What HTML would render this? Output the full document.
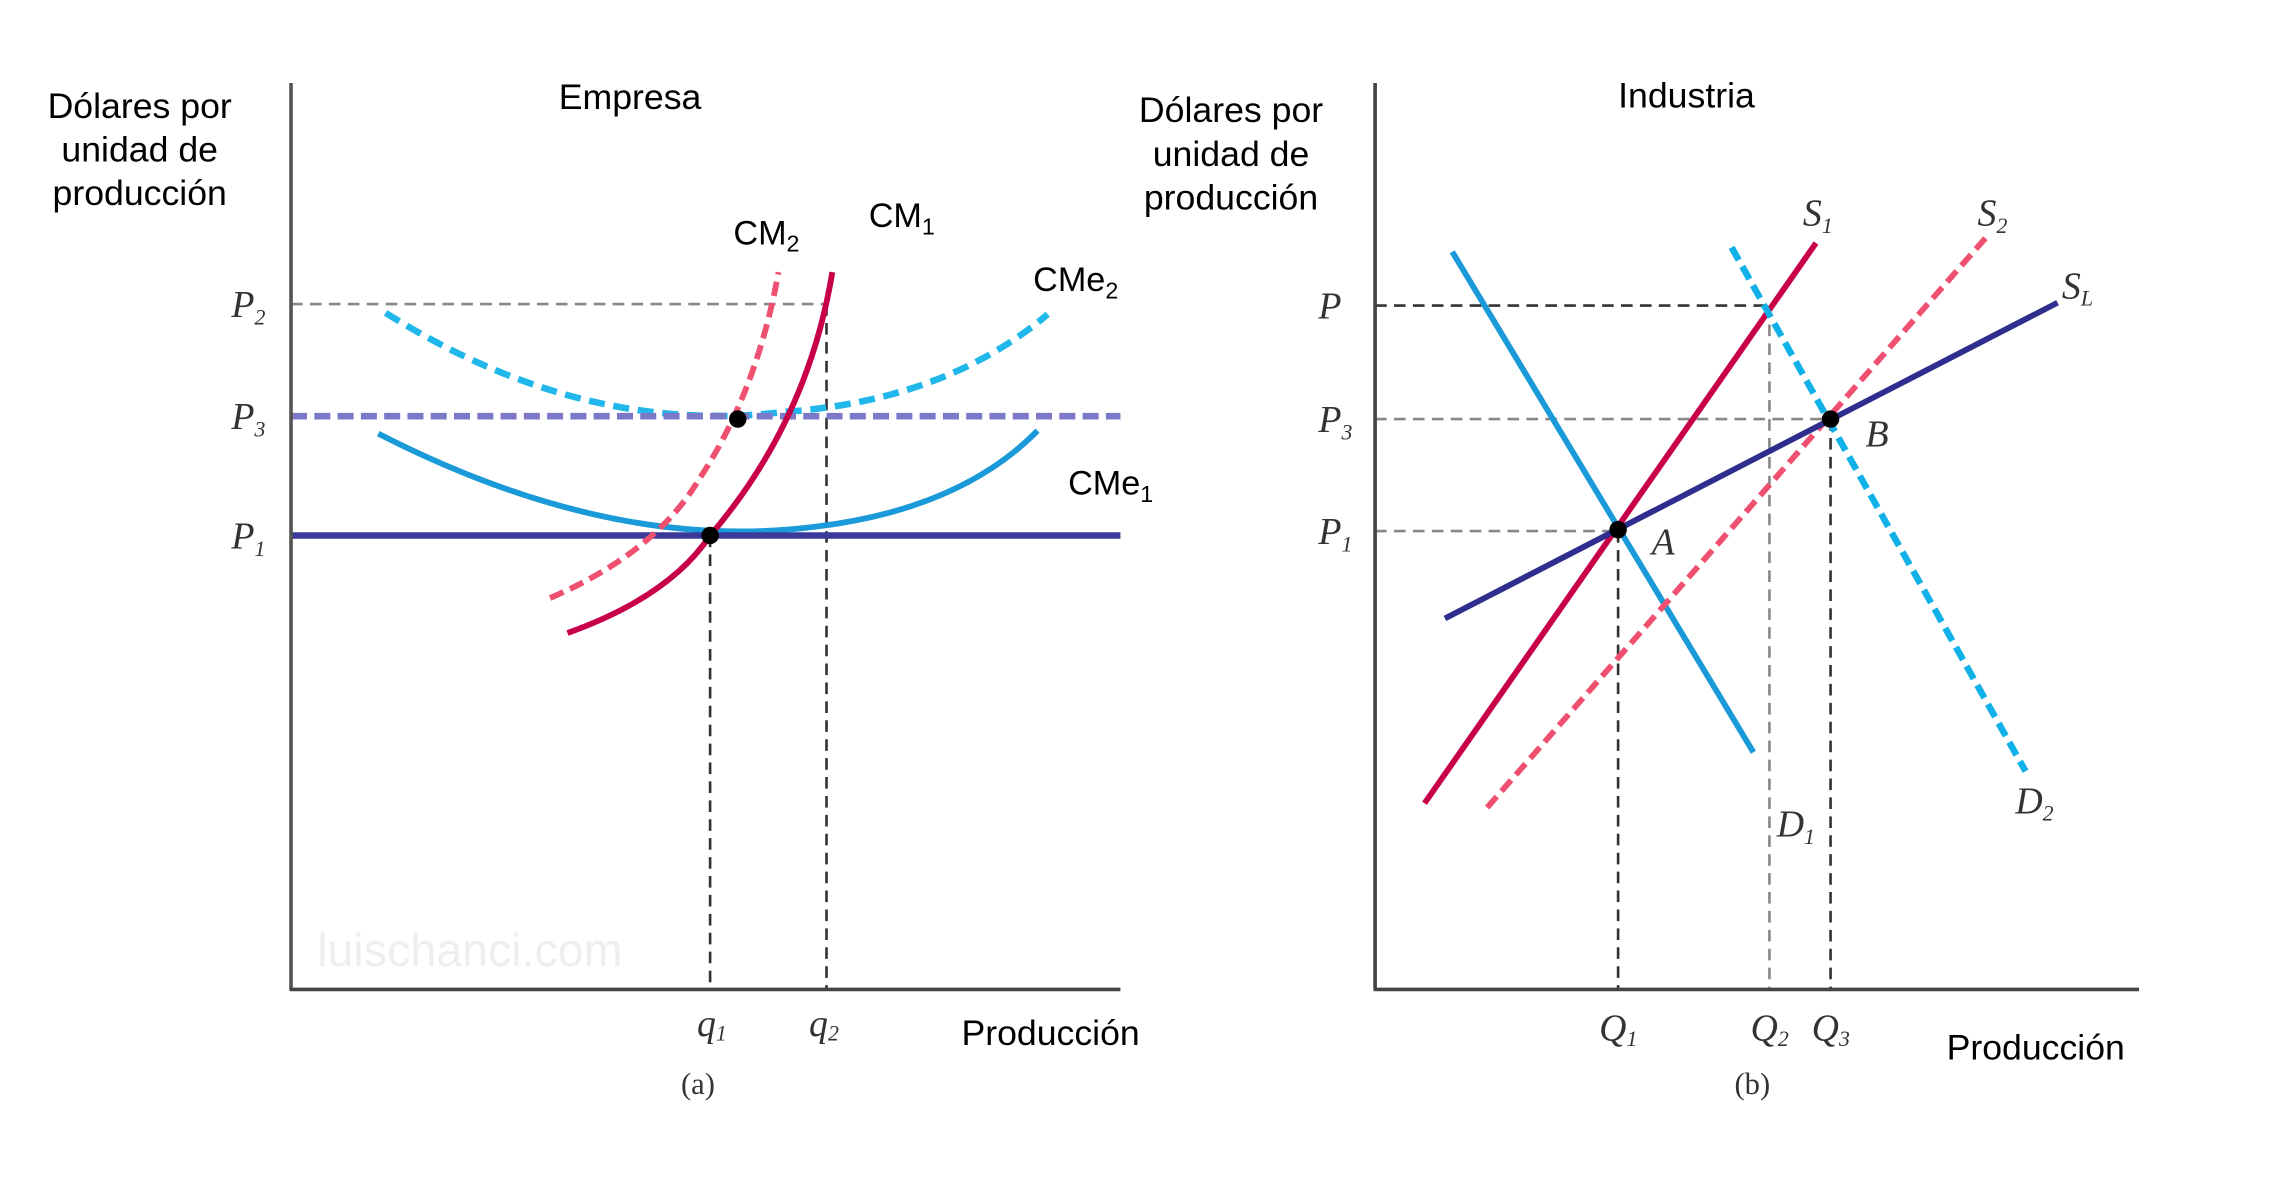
<!DOCTYPE html>
<html><head><meta charset="utf-8"><style>
html,body{margin:0;padding:0;background:#fff;width:2270px;height:1182px;overflow:hidden}
svg{display:block}
.s{font-family:"Liberation Sans",sans-serif;fill:#000}
.r{font-family:"Liberation Serif",serif;font-style:italic;fill:#333}
</style></head><body>
<svg width="2270" height="1182" viewBox="0 0 1560 812.3" preserveAspectRatio="none" xmlns="http://www.w3.org/2000/svg">
<!-- LEFT PANEL -->
<text class="s" x="218" y="664" font-size="32" style="fill:#eeeeee">luischanci.com</text>
<g class="s" font-size="24.5" text-anchor="middle">
<text x="96" y="81">Dólares por</text>
<text x="96" y="111">unidad  de</text>
<text x="96" y="141">producción</text>
<text x="433" y="75">Empresa</text>
<text x="722" y="718">Producción</text>
</g>
<line x1="200" y1="209" x2="568" y2="209" stroke="#888" stroke-width="1.8" stroke-dasharray="8,5"/>
<line x1="488" y1="368" x2="488" y2="680" stroke="#333" stroke-width="1.8" stroke-dasharray="8,5"/>
<line x1="568" y1="209" x2="568" y2="680" stroke="#333" stroke-width="1.8" stroke-dasharray="8,5"/>
<path d="M260,298 Q420,380 560,362 Q660,350 713,296" fill="none" stroke="#1a9ad8" stroke-width="4"/>
<path d="M265,215 Q400,300 540,283 Q650,275 720,216" fill="none" stroke="#20b8ea" stroke-width="4.5" stroke-dasharray="11,6"/>
<line x1="200" y1="286" x2="770" y2="286" stroke="#7b78c8" stroke-width="4.5" stroke-dasharray="11,5"/>
<line x1="200" y1="368" x2="770" y2="368" stroke="#3a3a9a" stroke-width="4.5"/>
<path d="M378,411 Q450,380 480,330 Q520,270 535,187" fill="none" stroke="#f05070" stroke-width="4" stroke-dasharray="10,5"/>
<path d="M390,435 Q460,410 488,368 Q555,290 572,187" fill="none" stroke="#c8004a" stroke-width="4"/>
<line x1="200" y1="57" x2="200" y2="680" stroke="#555" stroke-width="2.5"/>
<line x1="199" y1="680" x2="770" y2="680" stroke="#444" stroke-width="2.5"/>
<circle cx="488" cy="368" r="6" fill="#000"/>
<circle cx="507" cy="288" r="6" fill="#000"/>
<g class="s" font-size="23.5">
<text x="504" y="168">CM<tspan font-size="16" dy="5">2</tspan></text>
<text x="597" y="156">CM<tspan font-size="16" dy="5">1</tspan></text>
<text x="710" y="200">CMe<tspan font-size="16" dy="5">2</tspan></text>
<text x="734" y="340">CMe<tspan font-size="16" dy="5">1</tspan></text>
</g>
<g class="r" font-size="26">
<text x="159" y="218">P<tspan font-size="15" dy="5">2</tspan></text>
<text x="159" y="295">P<tspan font-size="15" dy="5">3</tspan></text>
<text x="159" y="377">P<tspan font-size="15" dy="5">1</tspan></text>
<text x="479" y="712">q<tspan font-size="15" dy="3">1</tspan></text>
<text x="556" y="712">q<tspan font-size="15" dy="3">2</tspan></text>
<text x="468" y="752" font-style="normal" font-size="21">(a)</text>
</g>

<!-- RIGHT PANEL -->
<g class="s" font-size="24.5" text-anchor="middle">
<text x="846" y="84">Dólares por</text>
<text x="846" y="114">unidad  de</text>
<text x="846" y="144">producción</text>
<text x="1159" y="74">Industria</text>
<text x="1399" y="728">Producción</text>
</g>
<line x1="945" y1="210" x2="1215" y2="210" stroke="#333" stroke-width="1.8" stroke-dasharray="8,5"/>
<line x1="945" y1="288" x2="1258" y2="288" stroke="#888" stroke-width="1.8" stroke-dasharray="8,5"/>
<line x1="945" y1="365" x2="1112" y2="365" stroke="#888" stroke-width="1.8" stroke-dasharray="8,5"/>
<line x1="1112" y1="365" x2="1112" y2="680" stroke="#333" stroke-width="1.8" stroke-dasharray="8,5"/>
<line x1="1216" y1="210" x2="1216" y2="680" stroke="#888" stroke-width="1.8" stroke-dasharray="8,5"/>
<line x1="1258" y1="288" x2="1258" y2="680" stroke="#333" stroke-width="1.8" stroke-dasharray="8,5"/>
<line x1="998" y1="173" x2="1205" y2="517" stroke="#1a9ad8" stroke-width="4"/>
<line x1="1022" y1="555" x2="1365" y2="163" stroke="#f05070" stroke-width="4" stroke-dasharray="10,5"/>
<line x1="979" y1="552" x2="1248" y2="167" stroke="#c8004a" stroke-width="4"/>
<line x1="1190" y1="170" x2="1392" y2="530" stroke="#10b0e8" stroke-width="4.5" stroke-dasharray="10,5"/>
<line x1="993" y1="425" x2="1414" y2="208" stroke="#2e2e8e" stroke-width="4"/>
<line x1="945" y1="57" x2="945" y2="680" stroke="#444" stroke-width="2.5"/>
<line x1="944" y1="680" x2="1470" y2="680" stroke="#444" stroke-width="2.5"/>
<circle cx="1112" cy="364" r="6" fill="#000"/>
<circle cx="1258" cy="288" r="6" fill="#000"/>
<g class="r" font-size="26">
<text x="906" y="219">P</text>
<text x="906" y="297">P<tspan font-size="15" dy="5">3</tspan></text>
<text x="906" y="374">P<tspan font-size="15" dy="5">1</tspan></text>
<text x="1239" y="155">S<tspan font-size="15" dy="5">1</tspan></text>
<text x="1359" y="155">S<tspan font-size="15" dy="5">2</tspan></text>
<text x="1417" y="205">S<tspan font-size="15" dy="5">L</tspan></text>
<text x="1385" y="559">D<tspan font-size="15" dy="5">2</tspan></text>
<text x="1221" y="575">D<tspan font-size="15" dy="5">1</tspan></text>
<text x="1135" y="381">A</text>
<text x="1282" y="307">B</text>
<text x="1099" y="715">Q<tspan font-size="15" dy="4">1</tspan></text>
<text x="1203" y="715">Q<tspan font-size="15" dy="4">2</tspan></text>
<text x="1245" y="715">Q<tspan font-size="15" dy="4">3</tspan></text>
<text x="1192" y="752" font-style="normal" font-size="21">(b)</text>
</g>
</svg>
</body></html>
